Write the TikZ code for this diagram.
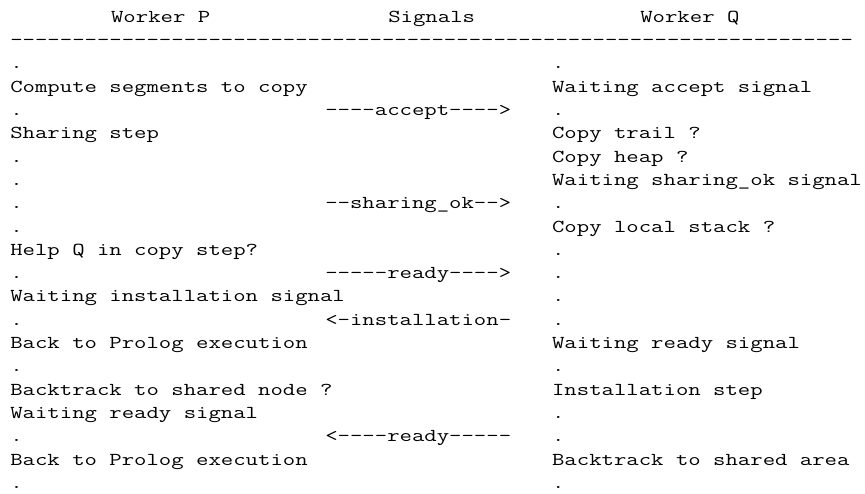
\documentclass[tikz,border=0pt]{standalone}
\newcommand\D{-\kern0pt}
\newcommand\Dten{\D\D\D\D\D\D\D\D\D\D}
\tikzset{
  txt/.style={anchor=base west, inner sep=0pt, outer sep=0pt,
    font=\ttfamily\fontsize{18.2}{23.3}\selectfont, xscale=1.322},
}
\begin{document}
\begin{tikzpicture}[x=1pt,y=-1pt]
\fill[white] (0,0) rectangle (865,494);
\useasboundingbox (0,0) rectangle (865,494);
\def\pitch{12.6}
\def\xo{10.3}
\def\cL{10.3}
\def\cM{325.3}
\def\cR{552.1}
% header
\node[txt] (hP) at ({\xo+8*\pitch},22.4) {Worker P};
\node[txt] (hS) at ({\xo+30*\pitch},22.4) {Signals};
\node[txt] (hQ) at ({\xo+50*\pitch},22.4) {Worker Q};
\node[txt] (rule) at (\xo,45.7) {\Dten\Dten\Dten\Dten\Dten\Dten\D\D\D\D\D\D\D\D};
% rows
\foreach \k/\l/\r in {
  1/./.,
  2/Compute segments to copy/Waiting accept signal,
  3/./.,
  4/Sharing step/Copy trail ?,
  5/./Copy heap ?,
  6/./Waiting sharing\_ok signal,
  7/./.,
  8/./Copy local stack ?,
  9/Help Q in copy step?/.,
  10/./.,
  11/Waiting installation signal/.,
  12/./.,
  13/Back to Prolog execution/Waiting ready signal,
  14/./.,
  15/Backtrack to shared node ?/Installation step,
  16/Waiting ready signal/.,
  17/./.,
  18/Back to Prolog execution/Backtrack to shared area,
  19/./.}{
  \node[txt] (l\k) at (\cL,{69+(\k-1)*23.3}) {\l};
  \node[txt] (r\k) at (\cR,{69+(\k-1)*23.3}) {\r};
}
% signals
\node[txt] (m3) at (\cM,{69+2*23.3}) {\D\D\D\D accept\D\D\D\D>};
\node[txt] (m7) at (\cM,{69+6*23.3}) {\D\D sharing\_ok\D\D>};
\node[txt] (m10) at (\cM,{69+9*23.3}) {\D\D\D\D\D ready\D\D\D\D>};
\node[txt] (m12) at (\cM,{69+11*23.3}) {<\D installation\D};
\node[txt] (m17) at (\cM,{69+16*23.3}) {<\D\D\D\D ready\D\D\D\D\D};
\end{tikzpicture}
\end{document}
